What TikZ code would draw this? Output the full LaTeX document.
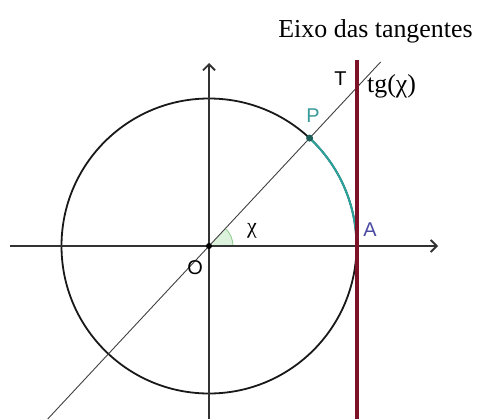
\documentclass[tikz,border=0pt]{standalone}
\usepackage{fontspec}
\setmainfont{Liberation Serif}
\setsansfont{Liberation Sans}
\usetikzlibrary{arrows.meta,calc}
\definecolor{maroon}{HTML}{7D1128}
\definecolor{tealarc}{HTML}{2AA39C}
\definecolor{tealtxt}{HTML}{3A9A9A}
\definecolor{tealdot}{HTML}{1F5F5A}
\definecolor{alabel}{HTML}{4A4AA0}
\definecolor{anglefill}{HTML}{DDF2DD}
\definecolor{angleedge}{HTML}{8CCB8C}
\definecolor{axisgray}{HTML}{333333}
\tikzset{
  axis/.style={draw=axisgray, line width=1.8bp, -{Straight Barb[length=6bp,width=12bp]}},
  circ/.style={draw=black!90, line width=1.8bp},
  diag/.style={draw=black!75, line width=0.9bp},
  tanline/.style={draw=maroon, line width=4.5bp},
  sanslbl/.style={font=\sffamily\fontsize{20}{20}\selectfont, inner sep=0pt},
  seriflbl/.style={font=\fontsize{26}{26}\selectfont, inner sep=0pt}
}
\begin{document}
\begin{tikzpicture}[x=1bp,y=1bp]
\useasboundingbox (0,0) rectangle (477,419);
\coordinate (O) at (209,173);
\coordinate (P) at (309.6,280.9);
\coordinate (A) at (356.5,173);
\coordinate (T) at (356.5,331.2);
\coordinate (xl) at (10,173);
\coordinate (xr) at (438,173);
\coordinate (yb) at (209,0);
\coordinate (yt) at (209,356);
\coordinate (rb) at (357,0);
\coordinate (rt) at (357,359);
\coordinate (db) at (47.7,0);
\coordinate (dt) at (380.6,357);
% angle
\fill[anglefill] (O) -- (233,173) arc[start angle=0, end angle=47, radius=24] -- cycle;
\draw[angleedge, line width=0.8bp] (233,173) arc[start angle=0, end angle=47, radius=24];
% circle
\draw[circ] (O) circle[radius=147.5];
% axes
\draw[axis] (xl) -- (xr);
\draw[axis] (yb) -- (yt);
% diagonal
\draw[diag] (db) -- (dt);
% green arc
\draw[tealarc, line width=2bp] (A) arc[start angle=0, end angle=47, radius=147.5];
% tangent axis
\draw[tanline] (rb) -- (rt);
% points
\fill[black] (O) circle[radius=3];
\fill[tealdot] (P) circle[radius=3.5];
% labels
\node[seriflbl, anchor=base] (title) at (375.5,382) {Eixo das tangentes};
\node[seriflbl, anchor=base west] (tg) at (367,327) {tg(χ)};
\node[sanslbl] (Tl) at (340.5,340) {T};
\node[sanslbl, text=tealtxt] (Pl) at (313,303) {P};
\node[sanslbl, text=alabel] (Al) at (370,189.5) {A};
\node[sanslbl] (Ol) at (195,151) {O};
\node[seriflbl, font=\fontsize{22}{22}\selectfont] (xl2) at (252,188) {χ};
\end{tikzpicture}
\end{document}
